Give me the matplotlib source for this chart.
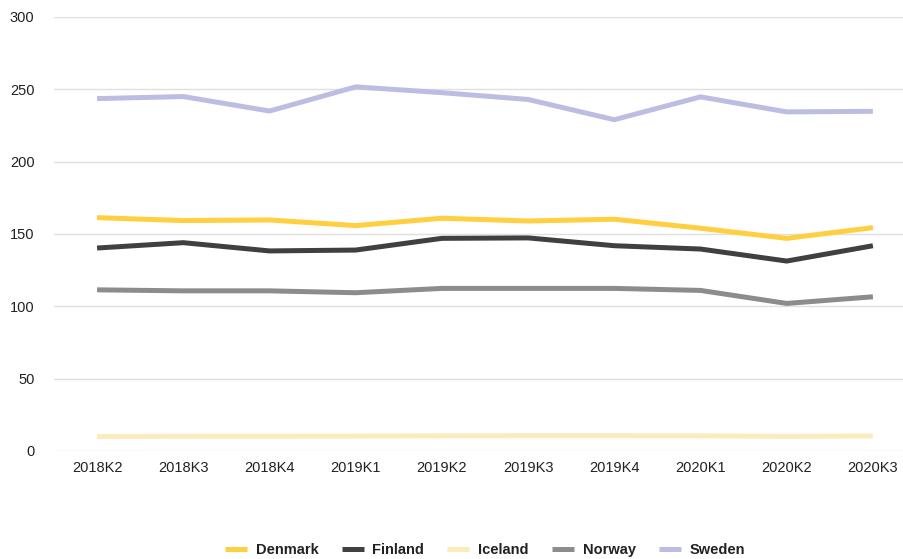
import matplotlib.pyplot as plt
import numpy as np

plt.rcParams['font.family'] = ['Liberation Sans', 'DejaVu Sans']

quarters = ['2018K2', '2018K3', '2018K4', '2019K1', '2019K2',
            '2019K3', '2019K4', '2020K1', '2020K2', '2020K3']

denmark = [161.3, 159.3, 159.7, 155.8, 160.9, 159.0, 160.2, 154.0, 147.0, 154.4]
finland = [140.3, 144.0, 138.3, 138.9, 147.0, 147.3, 141.9, 139.6, 131.3, 141.9]
iceland = [10.0, 10.2, 10.2, 10.3, 10.5, 10.6, 10.6, 10.5, 10.1, 10.4]
norway = [111.4, 110.7, 110.7, 109.4, 112.4, 112.4, 112.4, 111.0, 102.0, 106.6]
sweden = [243.6, 245.0, 235.0, 251.7, 247.7, 243.0, 229.0, 244.8, 234.4, 234.8]

series = [
    ('Denmark', denmark, '#ffcf3f'),
    ('Finland', finland, '#404040'),
    ('Iceland', iceland, '#fcebbd'),
    ('Norway', norway, '#8c8c8e'),
    ('Sweden', sweden, '#bcbde3'),
]

W, H = 904, 559
fig = plt.figure(figsize=(W / 100, H / 100), dpi=100)
ax = fig.add_axes([54 / W, 1 - 451 / H, (916 - 54) / W, (451 - 17) / H])

x = np.arange(len(quarters))
for name, vals, col in series:
    ax.plot(x, vals, color=col, lw=3.6, label=name, solid_capstyle='butt',
            solid_joinstyle='miter')

ax.set_xlim(-0.5, len(quarters) - 0.5)
ax.set_ylim(0, 300)
ax.set_yticks(range(0, 301, 50))
ax.set_xticks(x)
ax.set_xticklabels(quarters)
ax.grid(axis='y', color='#e0e0e0', lw=1)
ax.set_axisbelow(True)
for s in ax.spines.values():
    s.set_visible(False)
ax.tick_params(axis='both', length=0, labelsize=10.5, colors='#222222')
ax.tick_params(axis='y', pad=14)
ax.tick_params(axis='x', pad=7)
for lbl in ax.get_yticklabels():
    lbl.set_horizontalalignment('right')

leg = fig.legend(loc='center', bbox_to_anchor=(485 / W, 1 - 550 / H), ncol=5,
                 frameon=False, handlelength=1.5, handletextpad=0.6,
                 columnspacing=1.6, prop={'weight': 'bold', 'size': 10.5})
for t in leg.get_texts():
    t.set_color('#222222')

fig.savefig('out.png', dpi=100)
